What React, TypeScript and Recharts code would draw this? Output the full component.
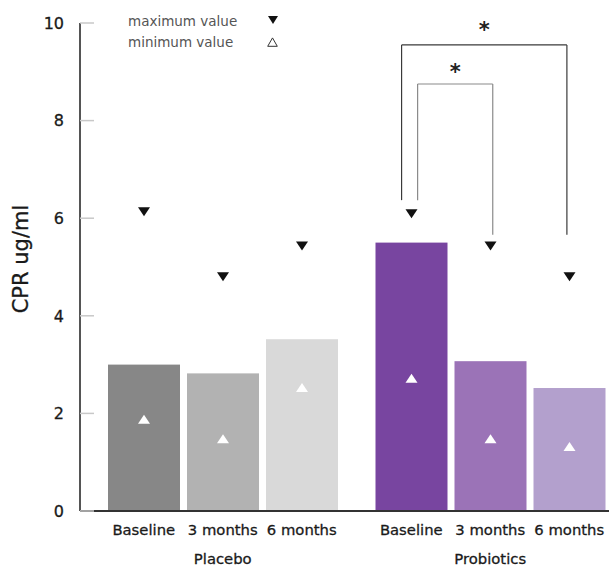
import React from 'react';
import { BarChart, Bar, XAxis, YAxis, Cell, ReferenceLine, ReferenceDot, Legend } from 'recharts';

// ---- data ----
const groups = ['Placebo', 'Probiotics'];
const timepoints = ['Baseline', '3 months', '6 months'];
const meanBaseline = [3.0, 5.5];
const mean3m = [2.82, 3.07];
const mean6m = [3.52, 2.52];
const maxBaseline = [6.13, 6.09];
const max3m = [4.8, 5.43];
const max6m = [5.43, 4.8];
const minBaseline = [1.88, 2.72];
const min3m = [1.48, 1.48];
const min6m = [2.53, 1.32];
const yTicks = [0, 2, 4, 6, 8, 10];

// ---- styles ----
const FONT = '"DejaVu Sans", sans-serif';
const TEXT = '#1a1a1a';
const placeboColors = ['#878787', '#b2b2b2', '#d9d9d9'];
const probioticColors = ['#7845a0', '#9b73b7', '#b3a0cd'];
const groupColors = [placeboColors, probioticColors];
const BAR_SIZE = 72;
const BAR_GAP = 7;
const BAND = 267; // width of one group band in px (hidden position axis units)

const data = groups.map((g, i) => ({
  group: g,
  baseline: meanBaseline[i],
  m3: mean3m[i],
  m6: mean6m[i],
}));

const series = [
  { key: 'baseline', name: timepoints[0], mean: meanBaseline, max: maxBaseline, min: minBaseline },
  { key: 'm3', name: timepoints[1], mean: mean3m, max: max3m, min: min3m },
  { key: 'm6', name: timepoints[2], mean: mean6m, max: max6m, min: min6m },
];

// bar center in hidden-axis units
const barCenter = (g: number, b: number) =>
  g * BAND + (BAND - (3 * BAR_SIZE + 2 * BAR_GAP)) / 2 + BAR_SIZE / 2 + b * (BAR_SIZE + BAR_GAP);

// significance brackets (annotation layout)
const brackets = [
  { from: [1, 0], to: [1, 2], dxFrom: -9.5, dxTo: -2.5, top: 9.55, leftBottom: 6.37, rightBottom: 5.66, star: 9.98, color: '#3a3a3a' },
  { from: [1, 0], to: [1, 1], dxFrom: 6.5, dxTo: 2.5, top: 8.75, leftBottom: 6.37, rightBottom: 5.66, star: 9.12, color: '#8a8a8a' },
];

const makeShape = (s: any) => (props: any) => {
  const { x, y, width, height, fill, index } = props;
  const v = s.mean[index];
  const ppu = height / v;
  const base = y + height;
  const cx = x + width / 2;
  const yMax = base - s.max[index] * ppu;
  const yMin = base - s.min[index] * ppu;
  return (
    <g>
      <rect x={x} y={y} width={width} height={height} fill={fill} />
      <polygon points={`${cx - 6},${yMax - 4.5} ${cx + 6},${yMax - 4.5} ${cx},${yMax + 4.5}`} fill="#111" />
      <polygon points={`${cx - 6},${yMin + 4.5} ${cx + 6},${yMin + 4.5} ${cx},${yMin - 4.5}`} fill="#fff" />
    </g>
  );
};

const txt = { fontFamily: FONT, fill: TEXT, stroke: TEXT, strokeWidth: 0.3 };

const YTick = (props: any) => {
  const { x, y, payload } = props;
  return (
    <g>
      <line x1={x} x2={x + 14} y1={y} y2={y} stroke="#c8c8c8" strokeWidth={1.5} />
      <text x={x - 16} y={y} dy="0.36em" textAnchor="end" fontSize={16} {...txt}>
        {payload.value}
      </text>
    </g>
  );
};

const GroupTick = (props: any) => {
  const { x, y, payload } = props;
  const pitch = BAR_SIZE + BAR_GAP;
  return (
    <g>
      {timepoints.map((t, i) => (
        <text key={t} x={x + (i - 1) * pitch} y={y + 19} dy="0.36em" textAnchor="middle" fontSize={14.8} {...txt}>
          {t}
        </text>
      ))}
      <text x={x} y={y + 48} dy="0.36em" textAnchor="middle" fontSize={14.8} {...txt}>
        {payload.value}
      </text>
    </g>
  );
};

const LegendBox = () => (
  <div style={{ fontFamily: FONT, fontSize: 13.5, color: '#555' }}>
    <div style={{ display: 'flex', alignItems: 'center', height: 21 }}>
      <span style={{ display: 'inline-block', width: 140 }}>maximum value</span>
      <svg width={10} height={9}><polygon points="0,0 10,0 5,8" fill="#111" /></svg>
    </div>
    <div style={{ display: 'flex', alignItems: 'center', height: 21 }}>
      <span style={{ display: 'inline-block', width: 139 }}>minimum value</span>
      <svg width={11} height={10}><polygon points="0.7,9.3 10.3,9.3 5.5,0.9" fill="#fff" stroke="#333" strokeWidth={1} /></svg>
    </div>
  </div>
);

const YTitle = (props: any) => {
  const vb = props.viewBox || { x: 0, y: 23, width: 80, height: 488 };
  const cx = vb.x + 20;
  const cy = vb.y + vb.height / 2 - 8;
  return (
    <text x={cx} y={cy} transform={`rotate(-90 ${cx} ${cy})`} dy="0.36em" textAnchor="middle" fontSize={21} {...txt}>
      CPR ug/ml
    </text>
  );
};

const Star = (p: any) => (
  <text x={p.cx} y={p.cy} dy="0.6em" textAnchor="middle" fontFamily={FONT} fontWeight="bold" fontSize={21} fill="#222">
    *
  </text>
);

export default function App() {
  const refs: React.ReactNode[] = [];
  brackets.forEach((b, i) => {
    const xl = barCenter(b.from[0], b.from[1]) + b.dxFrom;
    const xr = barCenter(b.to[0], b.to[1]) + b.dxTo;
    refs.push(
      <ReferenceLine key={`l${i}`} xAxisId="pos" yAxisId="v" ifOverflow="visible" segment={[{ x: xl, y: b.leftBottom }, { x: xl, y: b.top }]} stroke={b.color} strokeWidth={1.2} />
    );
    refs.push(
      <ReferenceLine key={`t${i}`} xAxisId="pos" yAxisId="v" ifOverflow="visible" segment={[{ x: xl, y: b.top }, { x: xr, y: b.top }]} stroke={b.color} strokeWidth={1.2} />
    );
    refs.push(
      <ReferenceLine key={`r${i}`} xAxisId="pos" yAxisId="v" ifOverflow="visible" segment={[{ x: xr, y: b.top }, { x: xr, y: b.rightBottom }]} stroke={b.color} strokeWidth={1.2} />
    );
    refs.push(
      <ReferenceDot key={`s${i}`} xAxisId="pos" yAxisId="v" ifOverflow="visible" x={(xl + xr) / 2} y={b.star} r={0} shape={<Star />} />
    );
  });
  return (
    <div style={{ position: 'absolute', left: 0, top: 0, width: 609, height: 567, overflow: 'hidden', background: '#fff' }}>
      <BarChart width={624} height={567} data={data} margin={{ top: 23, right: 0, bottom: 0, left: 0 }} barSize={BAR_SIZE} barGap={BAR_GAP}>
        <XAxis
          xAxisId="cat"
          dataKey="group"
          height={56}
          padding={{ left: 9, right: 0 }}
          tickLine={false}
          tickSize={0}
          tickMargin={0}
          interval={0}
          axisLine={{ stroke: '#333', strokeWidth: 2 }}
          tick={<GroupTick />}
        />
        <XAxis xAxisId="pos" dataKey="pos" type="number" domain={[0, 2 * BAND]} allowDataOverflow hide padding={{ left: 9, right: 0 }} />
        <YAxis
          yAxisId="v"
          width={80}
          domain={[0, 10]}
          ticks={yTicks}
          interval={0}
          tickLine={false}
          tickSize={0}
          tickMargin={0}
          axisLine={{ stroke: '#555', strokeWidth: 2 }}
          tick={<YTick />}
          label={<YTitle />}
        />
        <Legend
          layout="vertical"
          align="center"
          verticalAlign="middle"
          wrapperStyle={{ top: 10, left: 128, width: 200, height: 44 }}
          content={() => <LegendBox />}
        />
        {series.map((s, si) => (
          <Bar key={s.key} xAxisId="cat" yAxisId="v" dataKey={s.key} name={s.name} isAnimationActive={false} shape={makeShape(s)}>
            {data.map((d, gi) => (
              <Cell key={d.group} fill={groupColors[gi][si]} />
            ))}
          </Bar>
        ))}
        {refs}
      </BarChart>
    </div>
  );
}
